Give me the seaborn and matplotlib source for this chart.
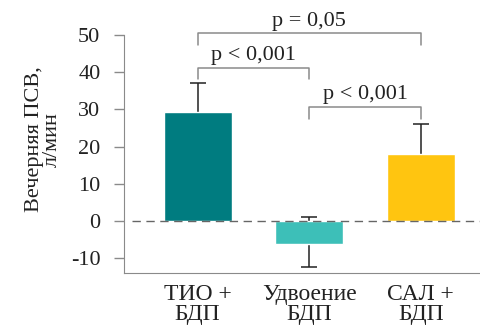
import pandas as pd
import numpy as np
import matplotlib.pyplot as plt
import seaborn as sns

# %% data
groups = ["ТИО +\nБДП", "Удвоение\nБДП", "САЛ +\nБДП"]
means = [29.3, -6.4, 18.0]
err_low = [7.7, 6.1, 8.0]
err_high = [7.7, 7.4, 8.0]
colors = ["#007C80", "#3DBFB8", "#FFC510"]
yticks = [-10, 0, 10, 20, 30, 40, 50]

# brackets: (left group, right group, height, p-label)
brackets = [(0, 2, 50.5, "p = 0,05"), (0, 1, 41.3, "p < 0,001"), (1, 2, 30.7, "p < 0,001")]

df = pd.DataFrame({"group": groups, "value": means})

# %% plot
sns.set_style("white")
plt.rcParams["font.family"] = ["Liberation Serif", "DejaVu Serif"]

fig = plt.figure(figsize=(4.8, 3.27), dpi=100)
ax = fig.add_axes([124 / 480, 54 / 327, 1 - 124 / 480, 1 - 54 / 327])

sns.barplot(data=df, x="group", y="value", hue="group", palette=colors,
            width=0.61, legend=False, saturation=1, ax=ax, zorder=3)
ax.errorbar(range(len(groups)), means, yerr=[err_low, err_high], fmt="none",
            ecolor="#222222", elinewidth=1.1, capsize=5.5, capthick=1.1, zorder=2)

ax.axhline(0, xmin=8 / 356, color="#666666", lw=1, ls=(0, (6, 4)), zorder=4)

grey = "#8a8a8a"
for a, b, h, label in brackets:
    leg = 3.2
    ax.plot([a, a, b, b], [h - leg, h, h, h - leg], color=grey, lw=1.1, clip_on=False)
    ax.text((a + b) / 2, h + 0.7, label, ha="center", va="bottom", fontsize=16, color="#222222")

ax.set_xlim(-0.66, 2.53)
ax.set_ylim(-14.1, 59.5)
ax.set_yticks(yticks)
ax.set_yticklabels([str(t) for t in yticks], fontsize=16, color="#222222")
ax.tick_params(axis="y", length=7, width=1, color=grey, pad=10, left=True)
ax.tick_params(axis="x", length=0, labelsize=17, labelcolor="#222222", pad=8)
for lbl in ax.get_xticklabels():
    lbl.set_linespacing(0.95)

ax.set_xlabel("")
ax.set_ylabel("Вечерняя ПСВ,\nл/мин", fontsize=16, color="#222222", linespacing=0.9)
ax.yaxis.set_label_coords(-0.175, 0.49)

sns.despine(ax=ax, top=True, right=True)
ax.spines["left"].set_bounds(-14.1, 50)
ax.spines["left"].set_color(grey)
ax.spines["bottom"].set_color(grey)

fig.savefig("out.png", dpi=100)
